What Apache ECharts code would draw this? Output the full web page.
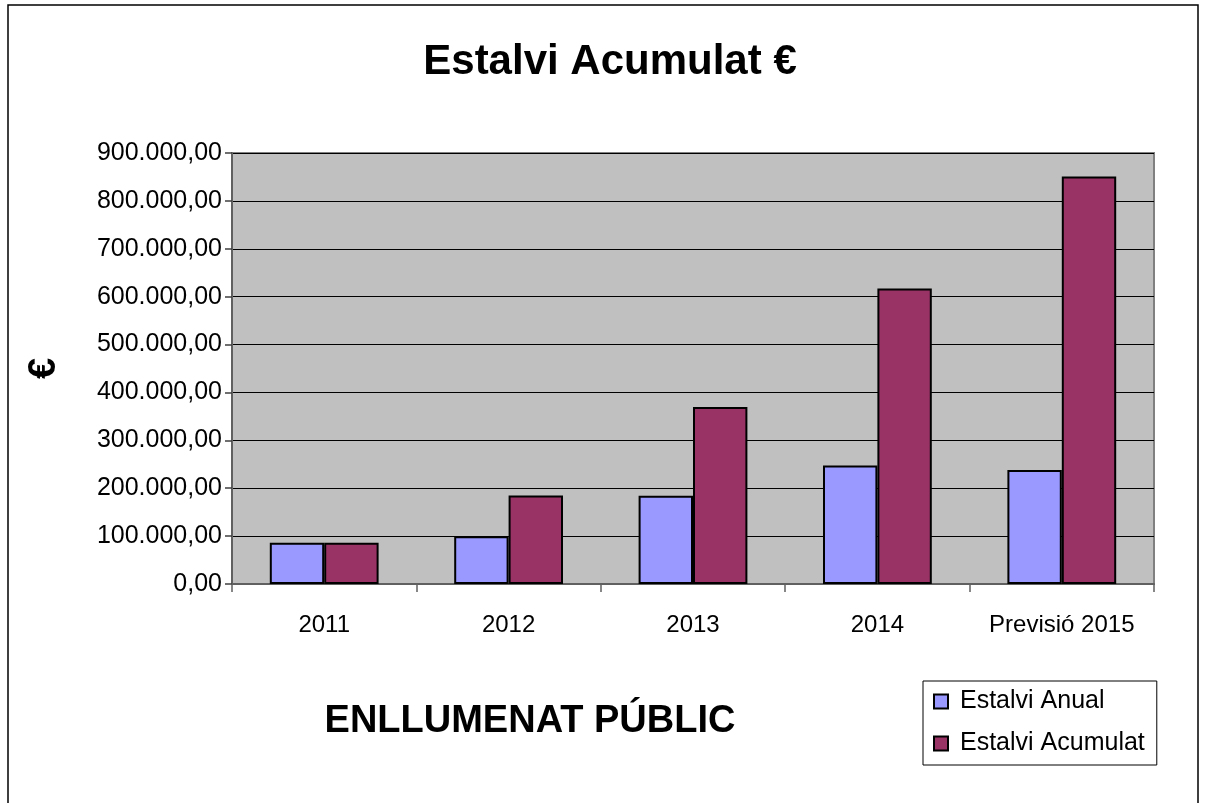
<!DOCTYPE html>
<html>
<head>
<meta charset="utf-8">
<script src="https://cdn.jsdelivr.net/npm/echarts@6/dist/echarts.min.js"></script>
<style>
html,body{margin:0;padding:0;background:#fff;}
#c{width:1206px;height:803px;}
</style>
</head>
<body>
<div id="c"></div>
<script>
const categories = ['2011', '2012', '2013', '2014', 'Previsió 2015'];
const estalviAnual = [86000, 99500, 184500, 247500, 238000];
const estalviAcumulat = [86000, 185000, 369500, 617000, 851000];
const seriesNames = ['Estalvi Anual', 'Estalvi Acumulat'];
const chartTitle = 'Estalvi Acumulat €';
const subTitle = 'ENLLUMENAT PÚBLIC';
const yName = '€';

function fmt(v) {
  const s = Math.round(v).toString().replace(/\B(?=(\d{3})+(?!\d))/g, '.');
  return s + ',00';
}

const chart = echarts.init(document.getElementById('c'));
const font = '"Liberation Sans", Arial, sans-serif';
chart.setOption({
  animation: false,
  backgroundColor: '#fff',
  textStyle: { fontFamily: font, color: '#000' },
  grid: {
    left: 232, right: 52, top: 153, bottom: 219,
    show: true, backgroundColor: '#C0C0C0', borderColor: '#808080', borderWidth: 2
  },
  legend: {
    orient: 'vertical',
    left: 923, top: 681,
    padding: [8, 12, 9, 10],
    itemGap: 17,
    itemWidth: 14, itemHeight: 14,
    icon: 'rect',
    borderColor: '#000', borderWidth: 1,
    backgroundColor: '#fff',
    textStyle: { fontSize: 25, fontFamily: font, color: '#000', padding: [0, 0, 0, 7] },
    data: seriesNames
  },
  xAxis: {
    type: 'category',
    data: categories,
    axisLine: { lineStyle: { color: '#606060', width: 2 } },
    axisTick: { show: true, interval: 0, length: 8, lineStyle: { color: '#606060', width: 1.5 } },
    axisLabel: { interval: 0, hideOverlap: false, fontSize: 24, color: '#000', margin: 29, fontFamily: font }
  },
  yAxis: {
    type: 'value',
    min: 0, max: 900000, interval: 100000,
    name: yName,
    nameLocation: 'middle',
    nameRotate: 90,
    nameGap: 168,
    nameTextStyle: { fontSize: 38, fontWeight: 'bold', color: '#000', fontFamily: font },
    axisLine: { show: true, lineStyle: { color: '#606060', width: 2 } },
    axisTick: { show: true, length: 7, lineStyle: { color: '#404040', width: 1.5 } },
    axisLabel: { fontSize: 25, color: '#000', margin: 10, fontFamily: font, formatter: fmt },
    splitLine: { show: true, lineStyle: { color: '#000', width: 1 } }
  },
  series: [
    {
      name: seriesNames[0], type: 'bar', data: estalviAnual,
      barGap: '0%', barCategoryGap: '41%',
      itemStyle: { color: '#9999FF', borderColor: '#000', borderWidth: 2 }
    },
    {
      name: seriesNames[1], type: 'bar', data: estalviAcumulat,
      barGap: '0%', barCategoryGap: '41%',
      itemStyle: { color: '#993366', borderColor: '#000', borderWidth: 2 }
    }
  ],
  graphic: [
    { type: 'rect', shape: { x: 8, y: 5, width: 1190, height: 820 }, style: { fill: null, stroke: '#000', lineWidth: 1.5 }, silent: true, z: -10 },
    { type: 'text', x: 610, y: 62, style: { text: chartTitle, font: 'bold 42px ' + font, fill: '#000', textAlign: 'center', textVerticalAlign: 'middle' } },
    { type: 'text', x: 530, y: 722, style: { text: subTitle, font: 'bold 38px ' + font, fill: '#000', textAlign: 'center', textVerticalAlign: 'middle' } }
  ]
});
</script>
</body>
</html>
